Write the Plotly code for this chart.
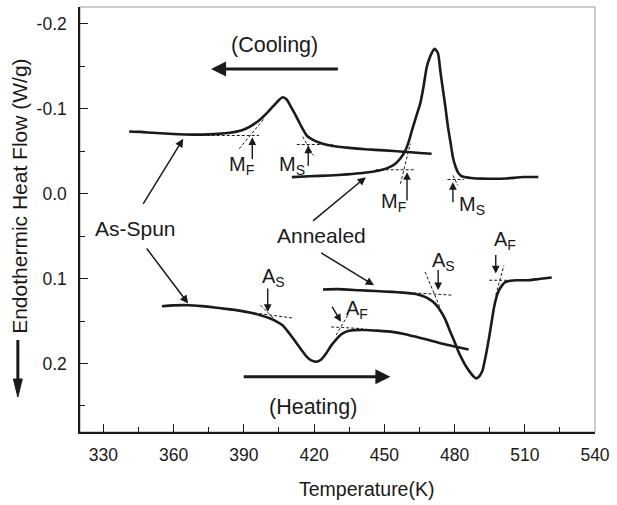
import plotly.graph_objects as go

# ---------------- data ----------------
as_spun_cool_T = [341.0, 346, 351, 358, 365, 372, 379, 384, 388, 391, 394, 397, 400, 403, 405, 406.6,
                  408.3, 410, 411.8, 413.3, 415, 417, 419.5, 423, 428, 435, 442, 450, 458, 465, 470.2]
as_spun_cool_hf = [-0.0733, -0.0728, -0.0718, -0.0706, -0.0698, -0.0696, -0.0705, -0.0718, -0.0738, -0.0768,
                   -0.0815, -0.0875, -0.0955, -0.1045, -0.1105, -0.1137, -0.111, -0.103, -0.094, -0.086,
                   -0.077, -0.068, -0.0635, -0.0595, -0.0562, -0.054, -0.0523, -0.051, -0.0495, -0.048, -0.047]

annealed_cool_T = [410.5, 418, 426.6, 434, 440.7, 445, 449.1, 452, 454.7, 457, 459, 460.5, 461.8, 463.5,
                   465.3, 466.8, 468.1, 469.5, 470.5, 471.3, 472.2, 473.0, 474, 475.1, 476.2, 477.2, 478.3,
                   479.3, 480.4, 481.4, 482.8, 484.2, 488, 492, 496.9, 502, 509.5, 515.8]
annealed_cool_hf = [-0.0195, -0.0205, -0.0215, -0.0228, -0.0243, -0.0258, -0.0282, -0.031, -0.0353, -0.042,
                    -0.051, -0.062, -0.0745, -0.090, -0.106, -0.127, -0.149, -0.161, -0.167, -0.1706, -0.169,
                    -0.1647, -0.143, -0.1215, -0.100, -0.0784, -0.060, -0.043, -0.032, -0.0254, -0.021,
                    -0.0196, -0.0182, -0.0178, -0.0176, -0.0180, -0.0196, -0.0196]

as_spun_heat_T = [355.0, 360, 366.2, 372, 377.5, 383, 388.7, 393, 397.1, 401, 404.2, 406.5, 408.4, 410.5,
                  412.6, 414.7, 416.8, 418.8, 420.7, 422.8, 425.2, 427.3, 429.4, 431.5, 433.7, 437, 442.1,
                  447, 453.4, 459, 464.6, 469, 474.4, 480, 486.0]
as_spun_heat_hf = [0.1326, 0.1316, 0.1314, 0.1325, 0.1341, 0.136, 0.1381, 0.1403, 0.1432, 0.1468, 0.151,
                   0.155, 0.161, 0.1685, 0.1765, 0.1845, 0.192, 0.1965, 0.198, 0.196, 0.188, 0.179, 0.172,
                   0.166, 0.1625, 0.1608, 0.1606, 0.1614, 0.1628, 0.1655, 0.1694, 0.1725, 0.1765, 0.180, 0.1835]

annealed_heat_T = [423.8, 430, 439.3, 446, 453.4, 458, 461.8, 464.7, 467.4, 469.5, 471.6, 473.4, 475.1,
                   476.5, 477.9, 479.7, 481.4, 483.2, 485.0, 487.1, 488.2, 489.2, 490.3, 491.2, 492.0, 493.4,
                   494.8, 495.9, 496.9, 498, 499.0, 500.3, 501.8, 504, 506.7, 511.3, 516, 521.5]
annealed_heat_hf = [0.1129, 0.1125, 0.1138, 0.1147, 0.1157, 0.1166, 0.1176, 0.119, 0.1216, 0.1248, 0.1294,
                    0.1355, 0.1432, 0.151, 0.1608, 0.1725, 0.1844, 0.195, 0.204, 0.212, 0.2155, 0.2176,
                    0.2160, 0.2125, 0.2079, 0.190, 0.1687, 0.150, 0.1334, 0.121, 0.1138, 0.108, 0.104,
                    0.1025, 0.102, 0.102, 0.1005, 0.0988]

# tangent construction lines (pairs of endpoints)
tangent_T = [[372, 396.5], [388.0, 398.6], [412.6, 428.1], [415.1, 419.7],
             [446.3, 463.1], [456.9, 461.1], [477.0, 484.0], [479.3, 481.4],
             [373.3, 410.5], [397.1, 404.2], [427.3, 440.7], [429.4, 434.4],
             [460.3, 479.3], [467.4, 473.7], [494.8, 504.0], [497.6, 501.1]]
tangent_hf = [[-0.0686, -0.0686], [-0.053, -0.0882], [-0.058, -0.058], [-0.0674, -0.0451],
              [-0.0282, -0.0282], [-0.0118, -0.0588], [-0.0168, -0.0168], [-0.0215, -0.0098],
              [0.1326, 0.1464], [0.1314, 0.151], [0.157, 0.159], [0.1667, 0.143],
              [0.1165, 0.1196], [0.0922, 0.1334], [0.102, 0.102], [0.1196, 0.0843]]

# transformation-point labels
point_labels = ["M<sub>F</sub>", "M<sub>S</sub>", "M<sub>F</sub>", "M<sub>S</sub>",
                "A<sub>S</sub>", "A<sub>F</sub>", "A<sub>S</sub>", "A<sub>F</sub>"]
point_label_T = [388.8, 410.7, 453.9, 487.6, 402.5, 438.3, 475.2, 501.5]
point_label_hf = [-0.0334, -0.0334, 0.0108, 0.0144, 0.0991, 0.1361, 0.0802, 0.0555]
# pointer arrows for those labels: head and tail
point_head_T = [393.6, 417.5, 459.7, 479.3, 400.2, 431.5, 473.0, 497.6]
point_head_hf = [-0.0666, -0.0568, -0.0254, -0.0136, 0.1393, 0.151, 0.1137, 0.0941]
point_tail_T = [393.6, 417.5, 459.7, 479.3, 400.2, 427.3, 473.0, 497.6]
point_tail_hf = [-0.039, -0.0313, 0.0099, 0.0118, 0.1099, 0.1314, 0.088, 0.0706]

# sample labels and their pointer arrows
sample_labels = ["As-Spun", "Annealed"]
sample_label_T = [343.9, 423.1]
sample_label_hf = [0.0408, 0.049]
sample_head_T = [364.1, 366.2, 442.1, 445.6]
sample_head_hf = [-0.0647, 0.1294, -0.0195, 0.1079]
sample_tail_T = [346.6, 348.0, 418.9, 422.4]
sample_tail_hf = [0.0138, 0.0628, 0.0334, 0.0687]

# direction labels and arrows
dir_labels = ["(Cooling)", "(Heating)"]
dir_label_T = [403.0, 419.4]
dir_label_hf = [-0.1755, 0.2514]
dir_head_T = [376.0, 452.6]
dir_tail_T = [430.8, 389.3]
dir_arrow_hf = [-0.147, 0.2158]

x_tick_vals = [330, 360, 390, 420, 450, 480, 510, 540]
x_tick_text = ["330", "360", "390", "420", "450", "480", "510", "540"]
y_tick_vals = [-0.2, -0.1, 0.0, 0.1, 0.2]
y_tick_text = ["-0.2", "-0.1", "0.0", "0.1", "0.2"]

# ---------------- figure ----------------
INK = "#1a1a1a"
FONT = "Liberation Sans, Arial, Helvetica, sans-serif"
W, H = 617, 505
ML, MR, MT, MB = 80, 15, 7, 73
PW, PH = W - ML - MR, H - MT - MB

fig = go.Figure()

for T, hf in [(as_spun_cool_T, as_spun_cool_hf), (annealed_cool_T, annealed_cool_hf),
              (as_spun_heat_T, as_spun_heat_hf), (annealed_heat_T, annealed_heat_hf)]:
    fig.add_trace(go.Scatter(x=T, y=hf, mode="lines",
                             line=dict(color=INK, width=2.6, shape="spline", smoothing=0.6),
                             showlegend=False, hoverinfo="skip"))

for T, hf in zip(tangent_T, tangent_hf):
    fig.add_trace(go.Scatter(x=T, y=hf, mode="lines",
                             line=dict(color=INK, width=1, dash="3px,2px"),
                             showlegend=False, hoverinfo="skip"))

ann = []
for txt, x, y in zip(point_labels, point_label_T, point_label_hf):
    ann.append(dict(x=x, y=y, xref="x", yref="y", text=txt, showarrow=False,
                    xanchor="center", yanchor="middle", font=dict(size=20, color=INK, family=FONT)))
for hx, hy, tx, ty in zip(point_head_T, point_head_hf, point_tail_T, point_tail_hf):
    ann.append(dict(x=hx, y=hy, ax=tx, ay=ty, xref="x", yref="y", axref="x", ayref="y", text="",
                    showarrow=True, arrowhead=2, arrowsize=1.1, arrowwidth=1.4, arrowcolor=INK, standoff=0))
for txt, x, y in zip(sample_labels, sample_label_T, sample_label_hf):
    ann.append(dict(x=x, y=y, xref="x", yref="y", text=txt, showarrow=False,
                    xanchor="center", yanchor="middle", font=dict(size=21, color=INK, family=FONT)))
for hx, hy, tx, ty in zip(sample_head_T, sample_head_hf, sample_tail_T, sample_tail_hf):
    ann.append(dict(x=hx, y=hy, ax=tx, ay=ty, xref="x", yref="y", axref="x", ayref="y", text="",
                    showarrow=True, arrowhead=2, arrowsize=1.1, arrowwidth=1.5, arrowcolor=INK, standoff=0))
for txt, x, y in zip(dir_labels, dir_label_T, dir_label_hf):
    ann.append(dict(x=x, y=y, xref="x", yref="y", text=txt, showarrow=False,
                    xanchor="center", yanchor="middle", font=dict(size=21.5, color=INK, family=FONT)))
for hx, tx, y in zip(dir_head_T, dir_tail_T, dir_arrow_hf):
    ann.append(dict(x=hx, y=y, ax=tx, ay=y, xref="x", yref="y", axref="x", ayref="y", text="",
                    showarrow=True, arrowhead=2, arrowsize=1.0, arrowwidth=3, arrowcolor=INK, standoff=0))

# axis titles
ann.append(dict(x=(18 - ML) / PW, y=1 - (196 - MT) / PH, xref="paper", yref="paper",
                text="Endothermic Heat Flow (W/g)", textangle=-90, showarrow=False,
                xanchor="center", yanchor="middle", font=dict(size=21, color=INK, family=FONT)))
ann.append(dict(x=(370.5 - ML) / PW, y=1 - (489 - MT) / PH, xref="paper", yref="paper",
                text="Temperature(K)", showarrow=False, xanchor="center", yanchor="middle",
                font=dict(size=19.5, color=INK, family=FONT)))


def px(xp):
    return (xp - ML) / PW


def py(yp):
    return 1 - (yp - MT) / PH


# downward arrow under the y-axis title (pixel positions converted to paper units)
ytitle_arrow = [
    dict(type="line", xref="paper", yref="paper", x0=px(17), x1=px(17), y0=py(340), y1=py(382),
         line=dict(color=INK, width=3)),
    dict(type="path", xref="paper", yref="paper",
         path=f"M {px(12.5)},{py(379)} L {px(21.5)},{py(379)} L {px(17)},{py(397)} Z",
         fillcolor=INK, line=dict(color=INK, width=1)),
]

fig.update_layout(
    width=W, height=H,
    margin=dict(l=ML, r=MR, t=MT, b=MB),
    paper_bgcolor="white", plot_bgcolor="white",
    font=dict(family=FONT, color=INK),
    annotations=ann,
    showlegend=False,
    shapes=[dict(type="rect", xref="paper", yref="paper", x0=0, y0=0, x1=1, y1=1,
                 line=dict(color="#9a9a9a", width=1), layer="below")] + ytitle_arrow,
)
fig.update_xaxes(range=[320, 540], showgrid=False, zeroline=False,
                 showline=True, linecolor=INK, linewidth=1.5,
                 ticks="inside", ticklen=8, tickwidth=1.3, tickcolor=INK,
                 tickvals=x_tick_vals, ticktext=x_tick_text,
                 tickfont=dict(size=17.5, color=INK, family=FONT), ticklabelstandoff=6,
                 minor=dict(tickvals=[345, 375, 405, 435, 465, 495, 525], ticks="inside",
                            ticklen=5, tickwidth=1.2, tickcolor=INK))
fig.update_yaxes(range=[0.2808, -0.22], showgrid=False, zeroline=False,
                 showline=True, linecolor=INK, linewidth=1.5,
                 ticks="inside", ticklen=8, tickwidth=1.3, tickcolor=INK,
                 tickvals=y_tick_vals, ticktext=y_tick_text,
                 tickfont=dict(size=17.5, color=INK, family=FONT), ticklabelstandoff=8,
                 minor=dict(tickvals=[-0.15, -0.05, 0.05, 0.15, 0.25], ticks="inside",
                            ticklen=5, tickwidth=1.2, tickcolor=INK))

fig.write_html("out.html")
